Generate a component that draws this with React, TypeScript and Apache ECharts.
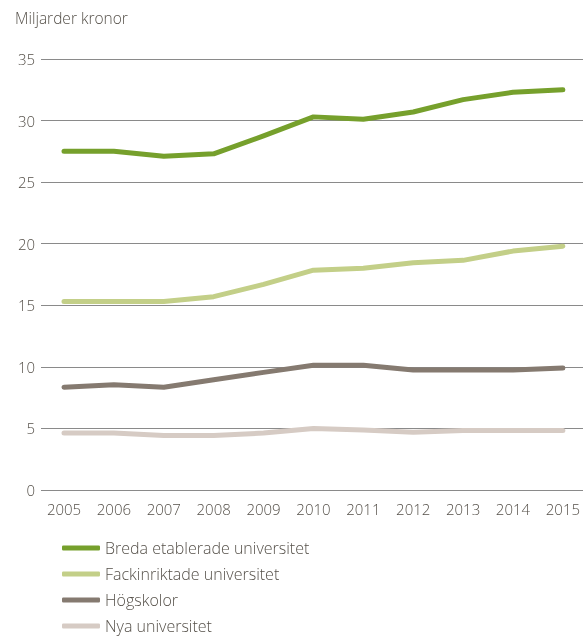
import React, { useEffect, useRef } from "react";
import * as echarts from "echarts";

const years = ["2005", "2006", "2007", "2008", "2009", "2010", "2011", "2012", "2013", "2014", "2015"];
const breda = [27.5, 27.5, 27.1, 27.3, 28.75, 30.3, 30.1, 30.7, 31.7, 32.3, 32.5];
const fack = [15.3, 15.3, 15.3, 15.7, 16.7, 17.85, 18.0, 18.45, 18.65, 19.4, 19.8];
const hogskolor = [8.35, 8.55, 8.35, 8.95, 9.55, 10.13, 10.13, 9.75, 9.75, 9.75, 9.9];
const nya = [4.62, 4.62, 4.42, 4.42, 4.62, 5.0, 4.87, 4.68, 4.84, 4.84, 4.84];
const seriesNames = ["Breda etablerade universitet", "Fackinriktade universitet", "Högskolor", "Nya universitet"];
const colors = ["#76a02c", "#c3cf88", "#857a70", "#d6cbc4"];

const FONT = "'Open Sans', Lato, sans-serif";
const TEXT = "#555049";

export default function App() {
  const ref = useRef<HTMLDivElement>(null);
  useEffect(() => {
    const chart = echarts.init(ref.current!, null, { renderer: "svg" });
    const data = [breda, fack, hogskolor, nya];
    chart.setOption({
      animation: false,
      textStyle: { fontFamily: FONT },
      graphic: [
        {
          type: "text",
          left: 15,
          top: 10,
          style: { text: "Miljarder kronor", fontSize: 15.5, fontWeight: 300, fill: TEXT, fontFamily: FONT },
        },
      ],
      legend: {
        orient: "vertical",
        left: 62,
        top: 540,
        padding: 0,
        itemWidth: 38,
        itemHeight: 5,
        itemGap: 10,
        icon: "roundRect",
        textStyle: { fontSize: 16, lineHeight: 16, fontWeight: 300, color: TEXT, fontFamily: FONT },
        data: seriesNames,
      },
      grid: [
        { left: 64, right: 18, top: 59, bottom: 147 },
        { left: 41, right: 0, top: 59, bottom: 147 },
      ],
      xAxis: [
        {
          type: "category",
          gridIndex: 0,
          data: years,
          boundaryGap: false,
          axisLine: { show: false },
          axisTick: { show: false },
          axisLabel: { color: TEXT, fontSize: 15, fontWeight: 300, margin: 11, fontFamily: FONT },
        },
        { type: "value", gridIndex: 1, show: false },
      ],
      yAxis: [
        { type: "value", gridIndex: 0, min: 0, max: 35, interval: 5, show: false },
        {
          type: "value",
          gridIndex: 1,
          min: 0,
          max: 35,
          interval: 5,
          axisLine: { show: false },
          axisTick: { show: false },
          axisLabel: { color: TEXT, fontSize: 15, fontWeight: 300, margin: 6, fontFamily: FONT },
          splitLine: { lineStyle: { color: "#8a8a8a", width: 1 } },
        },
      ],
      series: seriesNames.map((name, i) => ({
        name,
        type: "line",
        xAxisIndex: 0,
        yAxisIndex: 0,
        data: data[i],
        symbol: "none",
        itemStyle: { color: colors[i] },
        lineStyle: { color: colors[i], width: 5, cap: "round", join: "round" },
        z: 10 - i,
      })),
    });
    return () => chart.dispose();
  }, []);
  return <div ref={ref} style={{ position: "fixed", left: 0, top: 0, width: 583, height: 637 }} />;
}
